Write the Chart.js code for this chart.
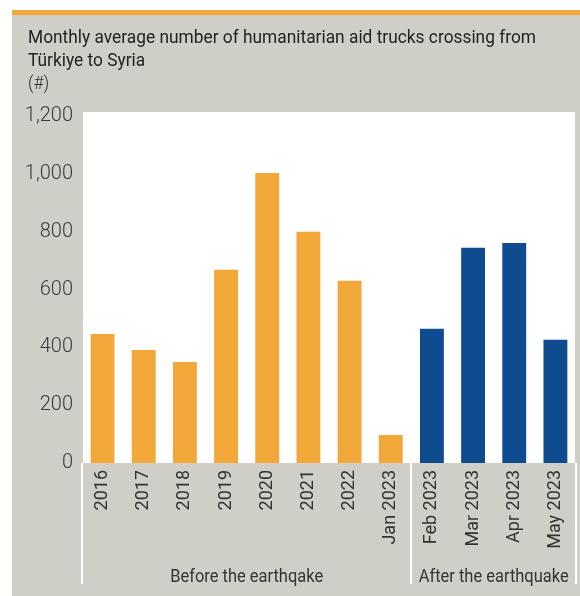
<!DOCTYPE html>
<html>
<head>
<meta charset="utf-8">
<script src="https://cdn.jsdelivr.net/npm/chart.js@4.4.1/dist/chart.umd.min.js"></script>
<style>
html,body{margin:0;padding:0;background:#ffffff;}
#wrap{width:580px;height:596px;position:relative;}
</style>
</head>
<body>
<div id="wrap"><canvas id="c" width="580" height="596"></canvas></div>
<script>
// ---- data ----
const categories = ['2016','2017','2018','2019','2020','2021','2022','Jan 2023','Feb 2023','Mar 2023','Apr 2023','May 2023'];
const beforeValues = [446, 391, 349, 668, 1003, 800, 630, 97, null, null, null, null];
const afterValues  = [null, null, null, null, null, null, null, null, 464, 744, 761, 426];
const yTickValues = [0, 200, 400, 600, 800, 1000, 1200];
const groupLabels = ['Before the earthqake', 'After the earthquake'];
const groupStarts = [0, 8];
const groupEnds   = [7, 11];
const titleLines = ['Monthly average number of humanitarian aid trucks crossing from', 'Türkiye to Syria', '(#)'];

const FONT = 'Roboto, "DejaVu Sans Condensed", sans-serif';
const ORANGE = '#F2A838';
const BLUE = '#0F4C8F';
const PANEL = '#CFCFC7';

function squeezeText(ctx, text, x, y, sx) {
  ctx.save();
  ctx.translate(x, y);
  ctx.scale(sx, 1);
  ctx.fillText(text, 0, 0);
  ctx.restore();
}

const decorPlugin = {
  id: 'decor',
  beforeDraw(chart) {
    const ctx = chart.ctx;
    const a = chart.chartArea;
    ctx.save();
    ctx.fillStyle = '#ffffff';
    ctx.fillRect(0, 0, chart.width, chart.height);
    ctx.fillStyle = PANEL;
    ctx.fillRect(12, 15, chart.width - 12, chart.height - 15);
    ctx.fillStyle = ORANGE;
    ctx.fillRect(12, 10, chart.width - 12, 5);
    // white plot area
    ctx.fillStyle = '#ffffff';
    ctx.fillRect(a.left + 1, a.top - 4, a.right - a.left - 2, a.bottom - a.top + 4);
    // title (horizontally condensed)
    ctx.fillStyle = '#222222';
    ctx.textAlign = 'left';
    ctx.textBaseline = 'alphabetic';
    ctx.font = '19px ' + FONT;
    const sx = 508 / ctx.measureText(titleLines[0]).width;
    squeezeText(ctx, titleLines[0], 28, 43, sx);
    squeezeText(ctx, titleLines[1], 28, 66, sx);
    ctx.fillStyle = '#333333';
    ctx.font = '300 19px ' + FONT;
    squeezeText(ctx, titleLines[2], 28, 89, sx);
    ctx.restore();
  },
  afterDraw(chart) {
    const ctx = chart.ctx;
    const a = chart.chartArea;
    const x = chart.scales.x;
    const half = (x.getPixelForValue(1) - x.getPixelForValue(0)) / 2;
    ctx.save();
    // separators
    ctx.strokeStyle = '#ffffff';
    ctx.lineWidth = 2;
    const bounds = [x.getPixelForValue(0) - half];
    groupEnds.forEach(e => bounds.push(x.getPixelForValue(e) + half));
    bounds.forEach(b => {
      ctx.beginPath();
      ctx.moveTo(Math.round(b), a.bottom);
      ctx.lineTo(Math.round(b), 584);
      ctx.stroke();
    });
    // group labels
    ctx.fillStyle = '#333333';
    ctx.font = '19px ' + FONT;
    ctx.textAlign = 'center';
    ctx.textBaseline = 'alphabetic';
    const gsx = 150 / ctx.measureText(groupLabels[1]).width;
    groupLabels.forEach((g, i) => {
      const l = x.getPixelForValue(groupStarts[i]) - half;
      const r = x.getPixelForValue(groupEnds[i]) + half;
      squeezeText(ctx, g, (l + r) / 2, 582, gsx);
    });
    ctx.restore();
  }
};

new Chart(document.getElementById('c'), {
  type: 'bar',
  data: {
    labels: categories,
    datasets: [
      { label: 'Before', data: beforeValues, backgroundColor: ORANGE, grouped: false, barPercentage: 0.58, categoryPercentage: 1 },
      { label: 'After', data: afterValues, backgroundColor: BLUE, grouped: false, barPercentage: 0.58, categoryPercentage: 1 }
    ]
  },
  options: {
    responsive: false,
    animation: false,
    devicePixelRatio: 1,
    layout: { padding: { left: 12, top: 116, right: 4, bottom: 0 } },
    plugins: { legend: { display: false }, tooltip: { enabled: false }, title: { display: false } },
    scales: {
      x: {
        grid: { display: false, drawTicks: false },
        border: { display: false },
        ticks: {
          minRotation: 90, maxRotation: 90, autoSkip: false,
          color: '#333333', padding: 7,
          font: { family: FONT, size: 18 }
        },
        afterFit(s) { s.height = 133; s.paddingLeft = 0; s.paddingRight = 0; }
      },
      y: {
        min: 0, max: 1200,
        grid: { display: false, drawTicks: false },
        border: { display: false },
        afterBuildTicks(s) { s.ticks = yTickValues.map(v => ({ value: v })); },
        ticks: {
          color: '#3a3a3a', padding: 9,
          font: { family: FONT, size: 20, weight: '300' },
          callback: v => v.toLocaleString('en-US')
        },
        afterFit(s) { s.width = 70; s.paddingTop = 0; s.paddingBottom = 0; }
      }
    }
  },
  plugins: [decorPlugin]
});
</script>
</body>
</html>
